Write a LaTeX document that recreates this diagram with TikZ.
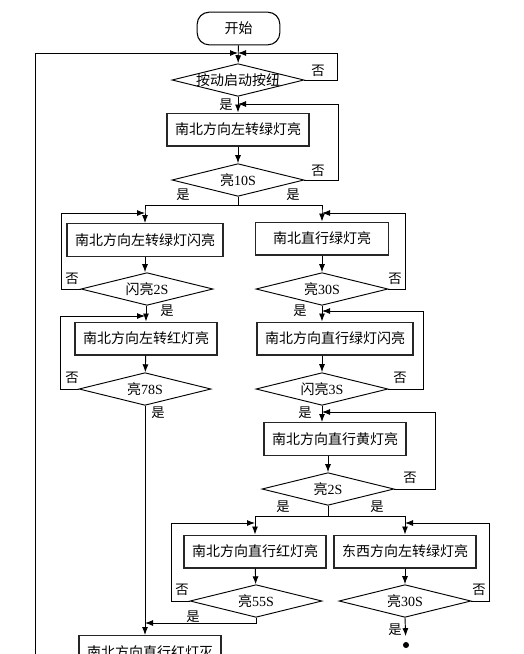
\documentclass[tikz,border=0pt]{standalone}
\usepackage{fontspec}
\setmainfont{Liberation Serif}
\newfontfamily\cjk{Noto Sans CJK SC}
\usetikzlibrary{shapes.geometric}
\usetikzlibrary{arrows.meta}
\newcommand\dtxt[1]{\makebox[0pt]{#1}}
\tikzset{
  startbox/.style={rectangle,draw,line width=0.8pt,rounded corners=9pt,minimum width=62pt,minimum height=24.5pt,font=\cjk\fontsize{10.5}{12}\selectfont},
  stepbox/.style={rectangle,draw=black!85,line width=1pt,minimum width=100pt,minimum height=24.5pt,inner xsep=6pt,font=\cjk\fontsize{10.5}{12}\selectfont},
  testbox/.style={diamond,draw,line width=0.7pt,aspect=4,inner sep=0pt,minimum width=99pt,minimum height=24.5pt,font=\cjk\fontsize{10.5}{12}\selectfont},
  yn/.style={inner sep=1pt,font=\cjk\fontsize{10}{12}\selectfont},
  arr/.style={-{Latex[length=6pt,width=4.5pt]}}
}
\begin{document}
\begin{tikzpicture}[x=0.75pt,y=-0.75pt,line width=0.7pt]
\useasboundingbox (0,0) rectangle (524,654);
\clip (0,0) rectangle (524,654);
\path (238.5,28.5) node(s)[startbox]{开始}
(238,80) node(d1)[testbox]{\dtxt{按动启动按纽}}
(238,129.5) node(b1)[stepbox]{南北方向左转绿灯亮}
(238,180) node(d2)[testbox]{\dtxt{亮\textrm{10S}}}
% left column
(145,240) node(b2)[stepbox]{南北方向左转绿灯闪亮}
(147,289) node(d3)[testbox]{\dtxt{闪亮\textrm{2S}}}
(146,338.5) node(b3)[stepbox]{南北方向左转红灯亮}
(145,389) node(d4)[testbox]{\dtxt{亮\textrm{78S}}}
(150,652) node(b9)[stepbox]{南北方向直行红灯灭}
% right column
(322,238.5) node(b4)[stepbox]{南北直行绿灯亮}
(322,289) node(d5)[testbox]{\dtxt{亮\textrm{30S}}}
(335,338.5) node(b5)[stepbox]{南北方向直行绿灯闪亮}
(322,389) node(d6)[testbox]{\dtxt{闪亮\textrm{3S}}}
(335,439) node(b6)[stepbox]{南北方向直行黄灯亮}
(328,489) node(d7)[testbox]{\dtxt{亮\textrm{2S}}}
(255,551.5) node(b7)[stepbox]{南北方向直行红灯亮}
(256,601) node(d8)[testbox]{\dtxt{亮\textrm{55S}}}
(405,551.5) node(b8)[stepbox]{东西方向左转绿灯亮}
(405,601) node(d9)[testbox]{\dtxt{亮\textrm{30S}}}
(406,645) node(e)[circle,fill,inner sep=1.6pt]{};
\coordinate (m0) at (238,53);
\coordinate (m1) at (238,104);
\coordinate (sp1) at (238,205);
\coordinate (m2) at (145,213);
\coordinate (m3) at (322,213);
\coordinate (m4) at (145,316);
\coordinate (m5) at (322,311);
\coordinate (m6) at (322,412);
\coordinate (sp2) at (328,516);
\coordinate (m7) at (255,523);
\coordinate (m8) at (405,523);
\coordinate (j) at (145,623);
\coordinate (lb) at (35,700);
% main line
\draw[arr](s)--(d1);
\draw[arr](d1)--(b1);
\draw[arr](b1)--(d2);
\draw[arr](d1.east)--++(33,0)|-(m0);
\draw[arr](d2.east)--++(34,0)|-(m1);
\draw[arr](lb)|-(m0);
\draw(d2.south)--(sp1);
\draw[arr](sp1)-|(m2)--(b2);
\draw[arr](sp1)-|(m3)--(b4);
% left
\draw[arr](b2)--(b2.south|-d3.north);
\draw[arr](d3.west)--++(-19,0)|-(m2);
\draw[arr](d3.south-|b3)--(b3);
\draw[arr](b3)--(d4);
\draw[arr](d4.west)--++(-18,0)|-(m4);
\draw[arr](d4.south)--(d4.south|-b9.north);
% right
\draw[arr](b4)--(d5);
\draw[arr](d5.east)--++(17,0)|-(m3);
\draw[arr](d5.south)--(d5.south|-b5.north);
\draw[arr](d6.north|-b5.south)--(d6.north);
\draw[arr](d6.east)--++(35,0)|-(m5);
\draw[arr](d6.south)--(d6.south|-b6.north);
\draw[arr](d7.north|-b6.south)--(d7.north);
\draw[arr](d7.east)--++(41,0)|-(m6);
\draw(d7.south)--(sp2);
\draw[arr](sp2)-|(b7.north);
\draw[arr](sp2)-|(b8.north);
\draw[arr](b7)--(d8);
\draw[arr](d8.west)--++(-18,0)|-(m7);
\draw[arr](d8.south)|-(j);
\draw[arr](b8)--(d9);
\draw[arr](d9.east)--++(18,0)|-(m8);
\draw[arr,shorten >=4pt](d9.south)--(e);
% labels
\path (318,71) node(n1)[yn]{否}
(226,105) node(y1)[yn]{是}
(318,171) node(n2)[yn]{否}
(183,195) node(y2)[yn]{是}
(293,195) node(y3)[yn]{是}
(72,279) node(n3)[yn]{否}
(167,311) node(y4)[yn]{是}
(72,378) node(n4)[yn]{否}
(158,413) node(y5)[yn]{是}
(395,279) node(n5)[yn]{否}
(300,311) node(y6)[yn]{是}
(400,378) node(n6)[yn]{否}
(305,413) node(y7)[yn]{是}
(410,478) node(n7)[yn]{否}
(283,507) node(y8)[yn]{是}
(377,507) node(y9)[yn]{是}
(182,590) node(n8)[yn]{否}
(193,617) node(y10)[yn]{是}
(479,590) node(n9)[yn]{否}
(395,630) node(y11)[yn]{是};
\end{tikzpicture}
\end{document}
